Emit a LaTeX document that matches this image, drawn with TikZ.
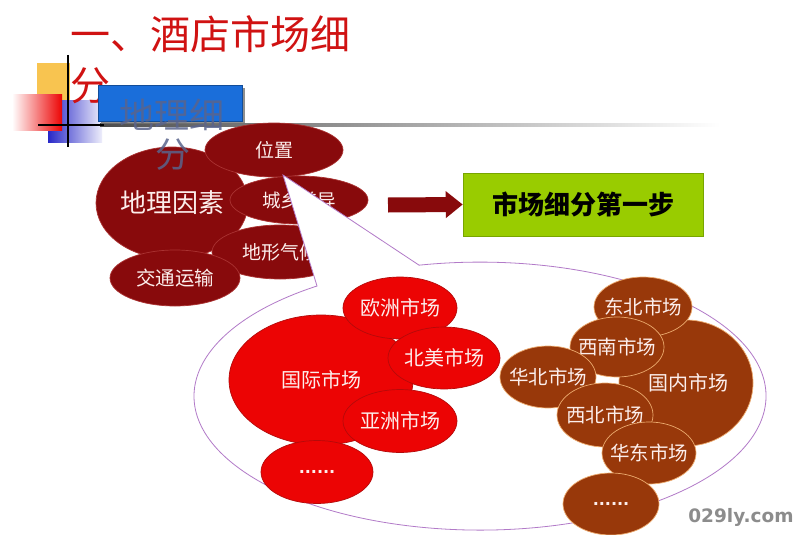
\documentclass[tikz,border=0pt]{standalone}
\usepackage{fontspec}
\setmainfont{DejaVu Sans}
\newfontfamily\cjk{Noto Sans CJK SC}
\newfontfamily\dv{DejaVu Sans}
\usetikzlibrary{shapes.geometric,arrows.meta,shadows}
\definecolor{titlered}{RGB}{208,18,18}
\definecolor{drk}{RGB}{136,10,12}
\definecolor{drkb}{RGB}{170,50,50}
\definecolor{rd}{RGB}{236,4,4}
\definecolor{rdb}{RGB}{180,10,10}
\definecolor{brn}{RGB}{152,56,10}
\definecolor{brnb}{RGB}{236,170,110}
\definecolor{txtw}{RGB}{252,238,236}
\definecolor{grn}{RGB}{153,204,0}
\definecolor{grnb}{RGB}{120,165,0}
\definecolor{callb}{RGB}{178,122,200}
\definecolor{boxblue}{RGB}{26,110,218}
\definecolor{decoyel}{RGB}{248,196,80}
\definecolor{decoblue}{RGB}{40,40,200}
\definecolor{geotext}{RGB}{90,100,140}
\definecolor{wmgray}{RGB}{140,140,140}
\newcommand\zb[1]{\makebox[0pt]{#1}}
\newcommand\fs[1]{\fontsize{#1}{#1}\selectfont}
\begin{document}
\begin{tikzpicture}[x=1pt,y=-1pt,
  blob/.style={ellipse, inner sep=0pt, line width=0.7pt, text=txtw},
  drblob/.style={blob, fill=drk, draw=drkb},
  rdblob/.style={blob, fill=rd, draw=rdb},
  brblob/.style={blob, fill=brn, draw=brnb},
  cjk/.style={font=\cjk\fs{#1}},
  dots/.style={font=\dv\bfseries\fs{16}},
  callout/.style={draw=callb, line width=0.8pt, fill=white},
  bigarrow/.style={draw=drk, line width=15pt, -{Triangle[length=17pt,width=26pt]}},
]
\useasboundingbox (0,0) rectangle (800,535);
\fill[white] (0,0) rectangle (800,535);

% decoration
\fill[decoyel] (37,63) rectangle (70,100);
\shade[left color=decoblue, right color=decoblue!8] (48,100) rectangle (102,142);
\shade[left color=white, right color=rd] (12,94) rectangle (62,130);
\shade[left color=black!70, right color=white] (100,123.8) rectangle (720,126.4);
\draw[line width=2pt] (38,125) -- (104,125);
\draw[line width=2pt] (68,55) -- (68,147);

% title
\node[cjk=40, text=titlered, anchor=base west, inner sep=0pt] (t1) at (70,50) {一、酒店市场细};
\node[cjk=40, text=titlered, anchor=base west, inner sep=0pt] (t2) at (70,100) {分};

% blue box
\node[fill=boxblue, draw=boxblue!70!black, line width=0.6pt, minimum width=144pt, minimum height=36pt, inner sep=0pt,
      drop shadow={shadow xshift=2.5pt, shadow yshift=-2.5pt, fill=black!55, opacity=0.8}] (geo) at (170,103) {};

% dark-red cluster
\node[drblob, minimum width=152pt, minimum height=112pt, cjk=26] (dlys) at (172,203) {\zb{地理因素}};
\node[drblob, minimum width=138pt, minimum height=54pt, cjk=19] (wz) at (274,150) {\zb{位置}};
\node[drblob, minimum width=138pt, minimum height=48pt, cjk=18.5] (cx) at (299,200) {\zb{城乡差异}};
\node[drblob, minimum width=136pt, minimum height=54pt, cjk=19] (dx) at (280,252) {\zb{地形气候}};
\node[drblob, minimum width=130pt, minimum height=56pt, cjk=19.5] (jt) at (175,278) {\zb{交通运输}};

% geo text (over box)
\node[cjk=35, text=geotext, opacity=0.85, inner sep=0pt] (g1) at (172,115) {地理细};
\node[cjk=35, text=geotext, opacity=0.85, inner sep=0pt] (g2) at (173,155) {分};

% callout bubble
\coordinate (tip) at (283,175);
\draw[callout] (tip) -- (317,286) arc[start angle=124.75, end angle=462.3, x radius=286pt, y radius=134pt] -- cycle;

% international (red)
\node[rdblob, minimum width=184pt, minimum height=130pt, cjk=20] (gj) at (321,380) {\zb{国际市场}};
\node[rdblob, minimum width=114pt, minimum height=62pt, cjk=20] (oz) at (400,308) {\zb{欧洲市场}};
\node[rdblob, minimum width=112pt, minimum height=62pt, cjk=20] (bm) at (444,358) {\zb{北美市场}};
\node[rdblob, minimum width=114pt, minimum height=63pt, cjk=20] (yz) at (400,421) {\zb{亚洲市场}};
\node[rdblob, minimum width=112pt, minimum height=63pt, dots] (rmore) at (317,472) {\zb{......}};

% domestic (brown)
\node[brblob, minimum width=134pt, minimum height=126pt, cjk=20] (gn) at (686,383) {\zb{\hspace*{4pt}国内市场}};
\node[brblob, minimum width=98pt, minimum height=60pt, cjk=19.5] (db) at (643,307) {\zb{东北市场}};
\node[brblob, minimum width=94pt, minimum height=60pt, cjk=19.5] (xn) at (617,347) {\zb{西南市场}};
\node[brblob, minimum width=96pt, minimum height=62pt, cjk=19.5] (hb) at (548,377) {\zb{华北市场}};
\node[brblob, minimum width=96pt, minimum height=64pt, cjk=19.5] (xb) at (605,415) {\zb{西北市场}};
\node[brblob, minimum width=94pt, minimum height=62pt, cjk=19.5] (hd) at (649,453) {\zb{华东市场}};
\node[brblob, minimum width=96pt, minimum height=62pt, dots] (bmore) at (611,504) {\zb{......}};

% arrow and green box
\node[fill=grn, draw=grnb, line width=0.6pt, minimum width=240pt, minimum height=63pt, inner sep=0pt,
      cjk=26, font=\cjk\bfseries\fs{26}] (step1) at (583,204.5) {市场细分第一步};
\coordinate (astart) at (388,205);
\draw[bigarrow] (astart) -- (step1.west);

% watermark
\node[font=\dv\bfseries\fs{18.5}, text=wmgray, inner sep=0pt] (wm) at (741,517) {029ly.com};
\end{tikzpicture}
\end{document}
